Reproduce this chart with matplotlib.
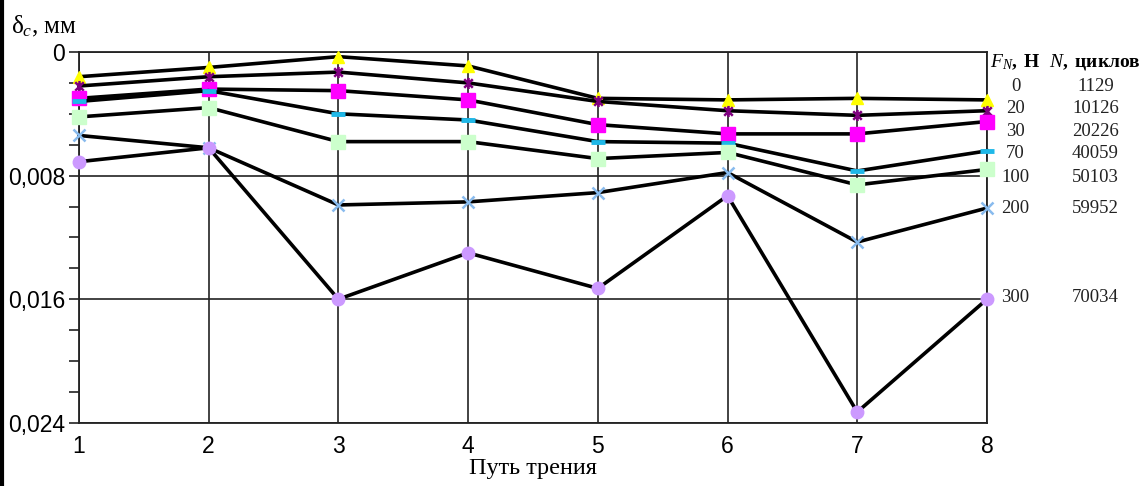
import matplotlib
matplotlib.use('Agg')
import matplotlib.pyplot as plt
from matplotlib.path import Path
from matplotlib.lines import Line2D
from matplotlib.ticker import MultipleLocator, FuncFormatter
from matplotlib.transforms import blended_transform_factory

plt.rcParams['mathtext.fontset'] = 'custom'
plt.rcParams['mathtext.rm'] = 'Liberation Serif'
plt.rcParams['mathtext.it'] = 'Liberation Serif:italic'
plt.rcParams['mathtext.bf'] = 'Liberation Serif:bold'

# friction path steps
path_steps = [1, 2, 3, 4, 5, 6, 7, 8]

# wear depth, mm, one list per normal load
wear_0 = [0.0016, 0.0010, 0.0003, 0.0009, 0.0030, 0.0031, 0.0030, 0.0031]
wear_20 = [0.0022, 0.0016, 0.0013, 0.0020, 0.0032, 0.0038, 0.0041, 0.0038]
wear_30 = [0.0030, 0.0024, 0.0025, 0.0031, 0.0047, 0.0053, 0.0053, 0.0045]
wear_70 = [0.0032, 0.0025, 0.0040, 0.0044, 0.0058, 0.0059, 0.0077, 0.0064]
wear_100 = [0.0042, 0.0036, 0.0058, 0.0058, 0.0069, 0.0065, 0.0086, 0.0076]
wear_200 = [0.0054, 0.0062, 0.0099, 0.0097, 0.0091, 0.0078, 0.0123, 0.0101]
wear_300 = [0.0071, 0.0062, 0.0160, 0.0130, 0.0153, 0.0093, 0.0233, 0.0160]

load_labels = ['0', '20', '30', '70', '100', '200', '300']
cycle_labels = ['1129', '10126', '20226', '40059', '50103', '59952', '70034']

# where the side table rows sit (data units on the y axis)
row_y = [0.00223, 0.00368, 0.00515, 0.0066, 0.0081, 0.0101, 0.0159]

# Excel-like "star": an x with a vertical bar
star = Path([(-1, -1), (1, 1), (-1, 1), (1, -1), (0, -1.3), (0, 1.3)],
            [Path.MOVETO, Path.LINETO] * 3)

series = [
    (wear_0, dict(marker='^', ms=9, mfc='#ffff00', mec='#ffff00')),
    (wear_20, dict(marker=star, ms=8, mfc='none', mec='#800080', mew=1.8)),
    (wear_30, dict(marker='s', ms=10, mfc='#ff00ff', mec='#ff00ff')),
    (wear_70, dict(marker='_', ms=10, mec='#1fb8e8', mew=3.5)),
    (wear_100, dict(marker='s', ms=10.5, mfc='#ccffcc', mec='#ccffcc')),
    (wear_200, dict(marker='x', ms=8, mec='#88bbee', mew=1.8)),
    (wear_300, dict(marker='o', ms=9, mfc='#cc99ff', mec='#cc99ff')),
]

fig = plt.figure(figsize=(11.41, 4.86), dpi=100)
ax = fig.add_axes([0.0692, 0.130, 0.7958, 0.763])

for vals, style in series:
    ax.plot(path_steps, vals, color='black', lw=2.6, clip_on=False, zorder=3, **style)

ax.set_xlim(1, 8)
ax.set_ylim(0.024, 0)
ax.set_xticks(path_steps)
ax.yaxis.set_major_locator(MultipleLocator(0.008))
ax.yaxis.set_minor_locator(MultipleLocator(0.002))
ax.yaxis.set_major_formatter(FuncFormatter(
    lambda v, p: '0' if abs(v) < 1e-9 else f'{v:.3f}'.replace('.', ',')))

ax.grid(True, which='major', color='#222222', lw=1.2)
for sp in ax.spines.values():
    sp.set_color('#222222')
    sp.set_linewidth(1.3)

ax.tick_params(axis='x', length=0, pad=9, labelsize=16.5)
ax.tick_params(axis='y', which='major', length=7, width=1.2, color='#222222', pad=3, labelsize=16.5)
ax.tick_params(axis='y', which='minor', length=7, width=1.2, color='#222222')
for lab in ax.get_xticklabels() + ax.get_yticklabels():
    lab.set_fontfamily('Liberation Sans')

ax.set_xlabel('Путь трения', fontsize=17.5, family='Liberation Serif', labelpad=0)
fig.text(0.010, 0.945, r'$\mathrm{\delta}_c$, мм', fontsize=18, family='Liberation Serif',
         ha='left', va='center')

# side table: load and cycles
fig.text(0.868, 0.872, r'$F_N\mathbf{,\ Н}$', fontsize=14, ha='left', va='center')
fig.text(0.919, 0.872, r'$N\mathbf{,\ циклов}$', fontsize=14, ha='left', va='center')
tr = blended_transform_factory(fig.transFigure, ax.transData)
for ry, fl, cl in zip(row_y, load_labels, cycle_labels):
    ax.text(0.890, ry, fl, transform=tr, fontsize=13.5, family='Liberation Serif',
            ha='center', va='center', color='#222222')
    ax.text(0.960, ry, cl, transform=tr, fontsize=13.5, family='Liberation Serif',
            ha='center', va='center', color='#222222')

fig.add_artist(Line2D([0.0018, 0.0018], [0, 1], transform=fig.transFigure, color='black', lw=3))

fig.savefig('out.png', dpi=100, facecolor='white')
